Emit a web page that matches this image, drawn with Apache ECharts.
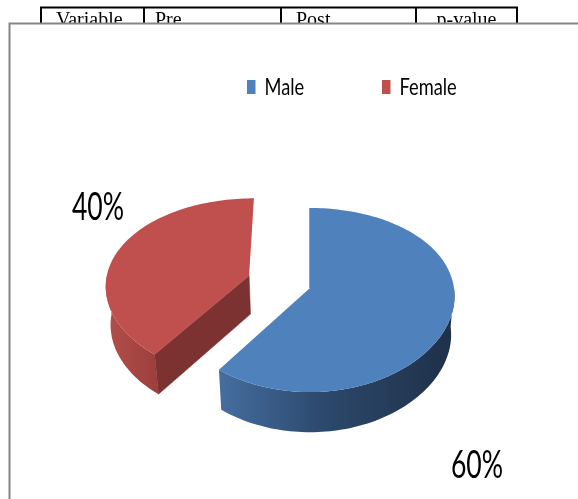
<!DOCTYPE html>
<html>
<head>
<meta charset="utf-8">
<script src="https://cdn.jsdelivr.net/npm/echarts@6/dist/echarts.min.js"></script>
<style>
  html, body { margin: 0; padding: 0; background: #ffffff; }
  #chart { width: 578px; height: 499px; }
</style>
</head>
<body>
<div id="chart"></div>
<script>
// ---- data ----
const categories = ['Male', 'Female'];
const values = [60, 40];
const tableHeaders = ['Variable', 'Pre', 'Post', 'p-value'];

// ---- styling / layout ----
const sliceColors = ['#4f81bd', '#c0504d'];
const wallStops = [
  ['#456ea0', '#2c486b', '#1f3048'],
  ['#b34f4c', '#a84744', '#9b3f3c']
];
const cutColors = ['#24395a', '#7c3230'];
const explode = [0, 0.45];
const labelAt = [[477, 466], [98, 208]];

const VIEW = {
  cx: 310, cy: 288,       // screen position of the pie's centre
  sx: 144, sy: 146,       // pixels per radius unit
  tilt: 38.3 * Math.PI / 180,
  distY: 6.0,             // camera distance used for vertical foreshortening
  distX: 9.0,             // softer foreshortening across
  height: 0.35            // extrusion depth in radius units
};
const sinA = Math.sin(VIEW.tilt), cosA = Math.cos(VIEW.tilt);

// projection of a point on the tilted disk (X right, Y up, Z away)
function project(X, Y, Z, flatX) {
  const v = Z * sinA + Y * cosA;
  const w = Z * cosA - Y * sinA;
  const fy = 1 + w / VIEW.distY;
  const fx = flatX ? 1 : 1 + w / VIEW.distX;
  return [VIEW.cx + VIEW.sx * X / fx, VIEW.cy - VIEW.sy * v / fy];
}
// signed screen area of a polygon; negative when it faces the viewer
function signedArea(pts) {
  let a = 0;
  for (let k = 0; k < pts.length; k++) {
    const p = pts[k], q = pts[(k + 1) % pts.length];
    a += p[0] * q[1] - q[0] * p[1];
  }
  return a / 2;
}

const total = values.reduce((a, b) => a + b, 0);

function renderSlice(params, api) {
  const i = params.dataIndex;
  let before = 0;
  for (let k = 0; k < i; k++) before += values[k];
  const a0 = before / total * Math.PI * 2;
  const a1 = a0 + api.value(0) / total * Math.PI * 2;
  const mid = (a0 + a1) / 2;
  const ox = explode[i] * Math.sin(mid), oz = explode[i] * Math.cos(mid);
  const H = VIEW.height;

  const steps = Math.max(8, Math.ceil((a1 - a0) / (Math.PI * 2) * 240));
  const angles = [];
  for (let s = 0; s <= steps; s++) angles.push(a0 + (a1 - a0) * s / steps);
  const rim = (t, y, flat) => project(ox + Math.sin(t), y, oz + Math.cos(t), flat);
  const topPts = angles.map(t => rim(t, 0));
  const botPts = angles.map(t => rim(t, -H));
  // flat-x copies decide which faces look toward the viewer
  const topF = angles.map(t => rim(t, 0, true));
  const botF = angles.map(t => rim(t, -H, true));

  const children = [];

  // outer wall, only the runs that face the viewer
  const runs = [];
  let cur = null;
  for (let s = 0; s < steps; s++) {
    const vis = signedArea([topF[s], topF[s + 1], botF[s + 1], botF[s]]) < 0;
    if (vis) {
      if (!cur) { cur = [s, s + 1]; runs.push(cur); } else cur[1] = s + 1;
    } else cur = null;
  }
  runs.forEach(([s0, s1]) => {
    const pts = [];
    for (let s = s0; s <= s1; s++) pts.push(topPts[s]);
    for (let s = s1; s >= s0; s--) pts.push(botPts[s]);
    let minX = Infinity, maxX = -Infinity;
    pts.forEach(p => { minX = Math.min(minX, p[0]); maxX = Math.max(maxX, p[0]); });
    const st = wallStops[i];
    children.push({
      type: 'polygon',
      shape: { points: pts },
      style: {
        fill: new echarts.graphic.LinearGradient(minX, 0, maxX, 0, [
          { offset: 0, color: st[0] },
          { offset: 0.45, color: st[1] },
          { offset: 1, color: st[2] }
        ], true),
        stroke: null
      }
    });
  });

  // flat cut faces along both radial edges
  const cTop = project(ox, 0, oz), cBot = project(ox, -H, oz);
  const cTopF = project(ox, 0, oz, true), cBotF = project(ox, -H, oz, true);
  const faces = [
    { pts: [cTop, topPts[0], botPts[0], cBot], test: [cTopF, topF[0], botF[0], cBotF] },
    { pts: [topPts[steps], cTop, cBot, botPts[steps]], test: [topF[steps], cTopF, cBotF, botF[steps]] }
  ];
  faces.forEach((face, which) => {
    const area = signedArea(face.test);
    if (area < -1) {
      children.push({
        type: 'polygon',
        shape: { points: face.pts },
        style: { fill: cutColors[i], stroke: cutColors[i], lineWidth: 0.5 }
      });
    } else if (Math.abs(area) <= 1 && which === 0) {
      // edge-on face: only a hairline along the rim shows
      children.push({
        type: 'polyline',
        shape: { points: [topPts[0], cTop] },
        style: { stroke: cutColors[i], lineWidth: 1, fill: null }
      });
    }
  });

  // top face
  children.push({
    type: 'polygon',
    shape: { points: [cTop].concat(topPts) },
    style: { fill: sliceColors[i], stroke: null }
  });

  // percentage label
  children.push({
    type: 'text',
    x: labelAt[i][0], y: labelAt[i][1],
    scaleX: 0.7,
    style: {
      text: Math.round(api.value(0) / total * 100) + '%',
      x: 0, y: 0,
      align: 'center', verticalAlign: 'middle',
      font: '38px Lato', fill: '#000000'
    }
  });

  return { type: 'group', children: children };
}

// ---- table header strip and chart frame ----
const colEdges = [41, 144, 281, 416, 517];
const headerX = [56, 155, 296, 466.5];
const headerAlign = ['left', 'left', 'left', 'center'];
const graphics = [];
graphics.push({
  type: 'polyline', z: 1,
  shape: { points: [[colEdges[0], 30], [colEdges[0], 7.5], [colEdges[4], 7.5], [colEdges[4], 30]] },
  style: { stroke: '#000', lineWidth: 2, fill: null }
});
for (let k = 1; k < colEdges.length - 1; k++) {
  graphics.push({
    type: 'line', z: 1,
    shape: { x1: colEdges[k], y1: 7.5, x2: colEdges[k], y2: 30 },
    style: { stroke: '#000', lineWidth: 2 }
  });
}
tableHeaders.forEach((h, k) => {
  graphics.push({
    type: 'text', z: 1,
    x: headerX[k], y: 21,
    style: { text: h, align: headerAlign[k], verticalAlign: 'middle', font: '20px "Liberation Serif"', fill: '#000' }
  });
});
graphics.push({
  type: 'rect', z: 2,
  shape: { x: 9.5, y: 23.5, width: 620, height: 520 },
  style: { fill: '#ffffff', stroke: '#868686', lineWidth: 2 }
});

// legend
const legendX = [247, 382];
categories.forEach((c, k) => {
  graphics.push({
    type: 'rect', z: 3,
    shape: { x: legendX[k], y: 80, width: 8.5, height: 14 },
    style: { fill: sliceColors[k] }
  });
  graphics.push({
    type: 'text', z: 3,
    x: legendX[k] + 17.5, y: 87,
    scaleX: 0.76,
    style: { text: c, x: 0, y: 0, align: 'left', verticalAlign: 'middle', font: '24px Lato', fill: '#000' }
  });
});

const chart = echarts.init(document.getElementById('chart'), null, { renderer: 'canvas' });
chart.setOption({
  animation: false,
  backgroundColor: '#ffffff',
  graphic: graphics,
  series: [{
    type: 'custom',
    coordinateSystem: 'none',
    z: 5,
    renderItem: renderSlice,
    data: values.map((v, k) => ({ name: categories[k], value: [v] }))
  }]
});
</script>
</body>
</html>
